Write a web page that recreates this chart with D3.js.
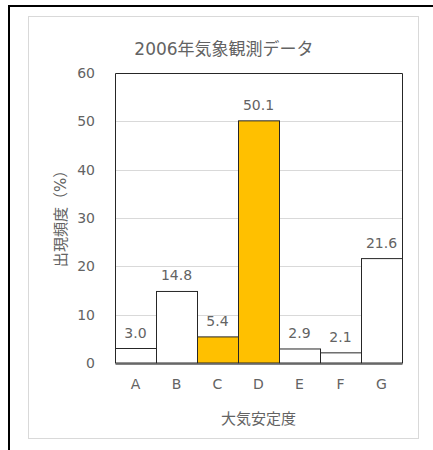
<!DOCTYPE html>
<html>
<head>
<meta charset="utf-8">
<script src="https://cdn.jsdelivr.net/npm/d3@7"></script>
<style>
  body { margin: 0; background: #fff; }
  text { font-family: "DejaVu Sans", "Noto Sans CJK JP", sans-serif; fill: #636363; }
</style>
</head>
<body>
<script>
var width = 433,
    height = 450;

var categories = ["A", "B", "C", "D", "E", "F", "G"],
    values = [3.0, 14.8, 5.4, 50.1, 2.9, 2.1, 21.6],
    highlighted = ["C", "D"],
    yTicks = [0, 10, 20, 30, 40, 50, 60];

var title = "2006年気象観測データ",
    xTitle = "大気安定度",
    yTitle = "出現頻度（%）";

var plot = {left: 115, right: 402, top: 73, bottom: 363};

var svg = d3.select("body").append("svg")
    .attr("width", width)
    .attr("height", height);

// outer frame
svg.append("rect")
    .attr("x", 9).attr("y", 6)
    .attr("width", 460).attr("height", 480)
    .attr("fill", "none")
    .attr("stroke", "#000")
    .attr("stroke-width", 2);

// chart area border
svg.append("rect")
    .attr("x", 28.5).attr("y", 16.5)
    .attr("width", 390).attr("height", 422)
    .attr("fill", "#fff")
    .attr("stroke", "#d9d9d9");

var x = d3.scaleBand()
    .domain(categories)
    .range([plot.left, plot.right])
    .padding(0);

var y = d3.scaleLinear()
    .domain([0, 60])
    .range([plot.bottom, plot.top]);

// gridlines
svg.append("g")
    .selectAll("line")
    .data(yTicks.slice(1, -1))
  .enter().append("line")
    .attr("x1", plot.left).attr("x2", plot.right)
    .attr("y1", function(d) { return Math.round(y(d)) + 0.5; })
    .attr("y2", function(d) { return Math.round(y(d)) + 0.5; })
    .attr("stroke", "#d9d9d9")
    .attr("stroke-width", 1);

// plot frame (left, top, right)
svg.append("path")
    .attr("d", "M" + (plot.left + 0.5) + "," + plot.bottom +
               "V" + (plot.top + 0.5) +
               "H" + (plot.right + 0.5) +
               "V" + plot.bottom)
    .attr("fill", "none")
    .attr("stroke", "#262626")
    .attr("stroke-width", 1);

// bars
svg.append("g")
    .selectAll("rect")
    .data(values)
  .enter().append("rect")
    .attr("x", function(d, i) { return x(categories[i]) + 0.5; })
    .attr("y", function(d) { return y(d); })
    .attr("width", x.bandwidth())
    .attr("height", function(d) { return plot.bottom - y(d); })
    .attr("fill", function(d, i) { return highlighted.indexOf(categories[i]) >= 0 ? "#ffc000" : "#fff"; })
    .attr("stroke", "#262626")
    .attr("stroke-width", 1);

// x axis
var xAxis = svg.append("g")
    .attr("transform", "translate(0," + (plot.bottom + 0.5) + ")")
    .call(d3.axisBottom(x).tickSize(0).tickPadding(16));
xAxis.select(".domain").attr("stroke", "#595959").attr("stroke-width", 1.5);
xAxis.selectAll("text").attr("font-size", 14).attr("fill", "#636363");

// y axis
var yAxis = svg.append("g")
    .attr("transform", "translate(" + plot.left + ",0)")
    .call(d3.axisLeft(y).tickValues(yTicks).tickSize(0).tickPadding(20));
yAxis.select(".domain").remove();
yAxis.selectAll("text").attr("font-size", 14).attr("fill", "#636363");

// data labels
svg.append("g")
    .selectAll("text")
    .data(values)
  .enter().append("text")
    .attr("x", function(d, i) { return x(categories[i]) + x.bandwidth() / 2; })
    .attr("y", function(d) { return y(d) - 11; })
    .attr("text-anchor", "middle")
    .attr("font-size", 14)
    .text(function(d) { return d.toFixed(1); });

// titles
svg.append("text")
    .attr("x", 224).attr("y", 55)
    .attr("text-anchor", "middle")
    .attr("font-size", 17)
    .text(title);

svg.append("text")
    .attr("x", (plot.left + plot.right) / 2).attr("y", 424)
    .attr("text-anchor", "middle")
    .attr("font-size", 15)
    .text(xTitle);

svg.append("text")
    .attr("transform", "translate(66,215)rotate(-90)")
    .attr("text-anchor", "middle")
    .attr("font-size", 15)
    .text(yTitle);
</script>
</body>
</html>
